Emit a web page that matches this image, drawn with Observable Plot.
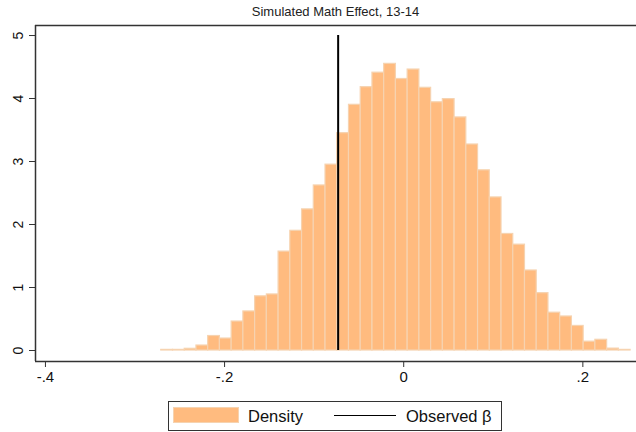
<!DOCTYPE html>
<html>
<head>
<meta charset="utf-8">
<script src="https://cdn.jsdelivr.net/npm/d3@7"></script>
<script src="https://cdn.jsdelivr.net/npm/@observablehq/plot@0.6"></script>
<style>
  body { margin: 0; background: white; font-family: "Liberation Sans", Arial, sans-serif; }
  #chart { position: relative; width: 636px; height: 432px; overflow: hidden; }
  #title { position: absolute; left: 35px; width: 601px; top: 4px; text-align: center; font-size: 13px; color: #222; }
  #plot { position: absolute; left: 0; top: 24px; }
  #legend { position: absolute; left: 168px; top: 401px; width: 332px; height: 28px; border: 1px solid #333; }
  #legend div { position: absolute; }
  .swatch { left: 4px; top: 5px; width: 64px; height: 14px; background: #ffbb7f; border: 1px solid #f6d3b0; }
  .lab { top: 0; line-height: 28px; font-size: 16.5px; color: #111; }
  .line { left: 165px; top: 13px; width: 62px; height: 0; border-top: 1.5px solid #000; }
</style>
</head>
<body>
<div id="chart">
  <div id="title">Simulated Math Effect, 13-14</div>
  <div id="plot"></div>
  <div id="legend">
    <div class="swatch"></div>
    <div class="lab" style="left:79px">Density</div>
    <div class="line"></div>
    <div class="lab" style="left:237px">Observed β</div>
  </div>
</div>
<script>
// histogram: 40 bins
const binStart = -0.2707;
const binWidth = 0.0131;
const density = [
  0.01, 0.01, 0.027, 0.079, 0.23, 0.19, 0.46, 0.62, 0.86, 0.89,
  1.57, 1.90, 2.24, 2.62, 2.95, 3.45, 3.90, 4.18, 4.41, 4.55,
  4.31, 4.46, 4.17, 3.94, 3.99, 3.70, 3.27, 2.86, 2.43, 1.85,
  1.68, 1.27, 0.91, 0.60, 0.54, 0.39, 0.14, 0.17, 0.03, 0.01
];
const observedBeta = -0.0732;
const xTicks = [-0.4, -0.2, 0, 0.2];
const yTicks = [0, 1, 2, 3, 4, 5];

const xDomain = [-0.4111, 0.2599];
const yDomain = [-0.1746, 5.159];

const bins = density.map((d, i) => ({
  x1: binStart + i * binWidth,
  x2: binStart + (i + 1) * binWidth,
  y: d
}));

// Stata style labels: -.4, -.2, 0, .2
const fmt = d => d === 0 ? "0" : String(d).replace("0.", ".");

const axisColor = "#333";

const plot = Plot.plot({
  width: 636,
  height: 372,
  marginTop: 1,
  marginBottom: 35,
  marginLeft: 35,
  marginRight: 0,
  x: { domain: xDomain },
  y: { domain: yDomain },
  style: {
    fontFamily: "Liberation Sans, Arial, sans-serif",
    fontSize: "14px",
    color: "#111",
    background: "white"
  },
  marks: [
    Plot.rectY(bins, {
      x1: "x1", x2: "x2", y: "y",
      fill: "#ffbb7f", stroke: "#f6d3b0", strokeWidth: 1.2,
      insetLeft: 0, insetRight: 0
    }),
    Plot.ruleX([observedBeta], { y1: 0, y2: 5, stroke: "black", strokeWidth: 2 }),
    Plot.ruleX([xDomain[0]], { stroke: axisColor, strokeWidth: 1.5 }),
    Plot.ruleY(yDomain, { stroke: axisColor, strokeWidth: 1.5 }),
    Plot.axisX({
      ticks: xTicks, tickFormat: fmt, tickSize: 6, tickPadding: 4,
      fontSize: 15, stroke: axisColor, label: null
    }),
    Plot.axisY({
      ticks: yTicks, tickFormat: d => String(d), tickSize: 6, tickPadding: 7, tickRotate: -90,
      stroke: axisColor, label: null
    })
  ]
});

d3.select("#plot").append(() => plot);
</script>
</body>
</html>
